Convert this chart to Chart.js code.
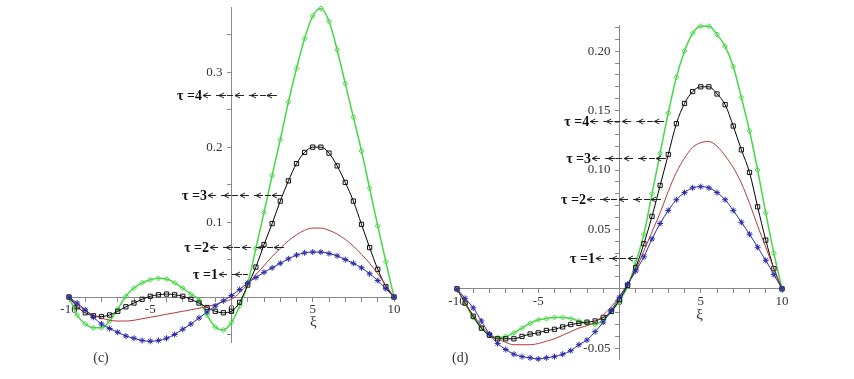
<!DOCTYPE html>
<html>
<head>
<meta charset="utf-8">
<script src="https://cdn.jsdelivr.net/npm/chart.js@4.4.0/dist/chart.umd.min.js"></script>
<style>
  html, body { margin: 0; padding: 0; background: #fff; overflow: hidden; }
  #wrap { position: relative; width: 854px; height: 379px; overflow: hidden; }
  canvas { position: absolute; }
  #chartC { left: 0; top: -10px; }
  #chartD { left: 427px; top: 0; }
</style>
</head>
<body>
<div id="wrap">
  <canvas id="chartC" width="427" height="389"></canvas>
  <canvas id="chartD" width="427" height="379"></canvas>
</div>
<script>
// xi values (sample points)
var xi = [-10, -9.5, -9, -8.5, -8, -7.5, -7, -6.5, -6, -5.5, -5, -4.5, -4, -3.5, -3, -2.5, -2, -1.5, -1, -0.5,
          0, 0.5, 1, 1.5, 2, 2.5, 3, 3.5, 4, 4.5, 5, 5.5, 6, 6.5, 7, 7.5, 8, 8.5, 9, 9.5, 10];

// panel (c)
var cBlue  = [0, -0.008, -0.017, -0.027, -0.036, -0.042, -0.047, -0.052, -0.055, -0.058, -0.059, -0.058, -0.055, -0.05, -0.043, -0.036, -0.028, -0.02, -0.012, -0.005,
              0.002, 0.01, 0.019, 0.026, 0.033, 0.039, 0.045, 0.051, 0.056, 0.059, 0.06, 0.06, 0.058, 0.055, 0.05, 0.045, 0.039, 0.031, 0.022, 0.011, 0];
var cRed   = [0, -0.01, -0.018, -0.024, -0.028, -0.031, -0.032, -0.032, -0.031, -0.029, -0.027, -0.025, -0.023, -0.021, -0.019, -0.017, -0.015, -0.013, -0.01, -0.006,
              -0.003, 0.006, 0.017, 0.03, 0.042, 0.054, 0.065, 0.075, 0.083, 0.089, 0.092, 0.092, 0.089, 0.084, 0.077, 0.068, 0.057, 0.045, 0.031, 0.016, 0];
var cBlack = [0, -0.013, -0.021, -0.025, -0.026, -0.024, -0.019, -0.013, -0.008, -0.003, 0.001, 0.003, 0.004, 0.003, 0.001, -0.003, -0.008, -0.014, -0.019, -0.021,
              -0.019, -0.007, 0.016, 0.04, 0.07, 0.098, 0.128, 0.155, 0.178, 0.193, 0.2, 0.2, 0.192, 0.175, 0.153, 0.128, 0.097, 0.066, 0.037, 0.014, 0];
var cGreen = [0, -0.024, -0.036, -0.041, -0.041, -0.032, -0.016, 0.001, 0.012, 0.019, 0.023, 0.025, 0.024, 0.019, 0.012, 0.004, -0.004, -0.024, -0.04, -0.044,
              -0.034, -0.012, 0.018, 0.065, 0.113, 0.162, 0.21, 0.26, 0.305, 0.345, 0.375, 0.385, 0.368, 0.33, 0.285, 0.24, 0.195, 0.145, 0.095, 0.047, 0];

// panel (d)
var dBlue  = [0, -0.008, -0.016, -0.027, -0.038, -0.046, -0.051, -0.055, -0.057, -0.058, -0.059, -0.058, -0.057, -0.055, -0.052, -0.047, -0.043, -0.036, -0.028, -0.018,
              -0.007, 0.004, 0.015, 0.027, 0.042, 0.055, 0.066, 0.075, 0.081, 0.085, 0.086, 0.085, 0.081, 0.075, 0.066, 0.056, 0.046, 0.035, 0.024, 0.012, 0];
var dRed   = [0, -0.012, -0.022, -0.031, -0.038, -0.042, -0.045, -0.047, -0.047, -0.047, -0.046, -0.044, -0.042, -0.039, -0.036, -0.033, -0.031, -0.028, -0.022, -0.015,
              -0.006, 0.004, 0.016, 0.032, 0.048, 0.064, 0.082, 0.098, 0.11, 0.119, 0.123, 0.124, 0.12, 0.112, 0.102, 0.089, 0.072, 0.053, 0.035, 0.017, 0];
var dBlack = [0, -0.012, -0.023, -0.033, -0.039, -0.042, -0.042, -0.042, -0.04, -0.038, -0.037, -0.035, -0.034, -0.032, -0.03, -0.029, -0.028, -0.027, -0.024, -0.019,
              -0.009, 0.003, 0.018, 0.038, 0.061, 0.087, 0.113, 0.139, 0.156, 0.166, 0.17, 0.17, 0.164, 0.155, 0.137, 0.117, 0.098, 0.069, 0.041, 0.017, 0];
var dGreen = [0, -0.012, -0.024, -0.033, -0.039, -0.041, -0.04, -0.037, -0.033, -0.029, -0.026, -0.025, -0.024, -0.024, -0.025, -0.027, -0.029, -0.03, -0.026, -0.019,
              -0.01, 0.002, 0.022, 0.046, 0.08, 0.114, 0.148, 0.178, 0.2, 0.215, 0.221, 0.221, 0.214, 0.204, 0.187, 0.161, 0.133, 0.1, 0.064, 0.03, 0];

// tau arrow labels
var tauLabels = ['\u03c4 =4', '\u03c4 =3', '\u03c4 =2', '\u03c4 =1'];
var cTauY = [0.269, 0.136, 0.067, 0.031];
var cTauFrom = [-1.82, -1.51, -1.38, -0.83];
var cTauTo = [2.86, 3.17, 3.35, 1.02];
var dTauY = [0.141, 0.110, 0.0756, 0.026];
var dTauFrom = [-1.86, -1.75, -2.06, -1.51];
var dTauTo = [2.82, 2.92, 2.62, 1.28];

var serif = '"Liberation Serif", "DejaVu Serif", serif';

function pts(ys) {
  return xi.map(function (x, i) { return { x: x, y: ys[i] }; });
}

function annot(spec) {
  return {
    id: 'tauArrows',
    afterDatasetsDraw: function (chart) {
      var ctx = chart.ctx, xs = chart.scales.x, ys = chart.scales.y;
      ctx.save();
      for (var i = 0; i < spec.labels.length; i++) {
        var y = Math.round(ys.getPixelForValue(spec.ys[i])) + 0.5;
        var x0 = xs.getPixelForValue(spec.from[i]);
        var x1 = xs.getPixelForValue(spec.to[i]);
        ctx.font = 'bold 14px ' + serif;
        ctx.fillStyle = '#111';
        ctx.textAlign = 'right';
        ctx.textBaseline = 'middle';
        ctx.fillText(spec.labels[i], x0, y + 1);
        ctx.strokeStyle = '#222';
        ctx.lineWidth = 1;
        ctx.setLineDash([6, 5]);
        ctx.beginPath();
        ctx.moveTo(x0 + 3, y);
        ctx.lineTo(x1, y);
        ctx.stroke();
        ctx.setLineDash([]);
        for (var ax = x0 + 1; ax < x1 - 8; ax += 16) {
          ctx.beginPath();
          ctx.moveTo(ax + 5, y - 2.5);
          ctx.lineTo(ax, y);
          ctx.lineTo(ax + 5, y + 2.5);
          ctx.stroke();
          ctx.beginPath();
          ctx.moveTo(ax, y);
          ctx.lineTo(ax + 7, y);
          ctx.stroke();
        }
      }
      ctx.font = '15px ' + serif;
      ctx.fillStyle = '#333';
      ctx.textAlign = 'center';
      ctx.textBaseline = 'middle';
      ctx.fillText('\u03be', xs.getPixelForValue(spec.xiPos[0]), ys.getPixelForValue(spec.xiPos[1]));
      ctx.font = '14px ' + serif;
      ctx.fillText(spec.panel, xs.getPixelForValue(spec.panelPos[0]), ys.getPixelForValue(spec.panelPos[1]));
      ctx.restore();
    }
  };
}

function isMult(v, step) {
  var r = v / step;
  return Math.abs(r - Math.round(r)) < 1e-6;
}

function makeChart(id, series, yMin, yMax, yStep, yLabelStep, yDigits, showNeg, pad, spec) {
  var ctx = document.getElementById(id).getContext('2d');
  return new Chart(ctx, {
    type: 'line',
    data: {
      datasets: [{
        label: 'tau=1', data: pts(series[0]), borderColor: '#2a2aa8', borderWidth: 1,
        pointStyle: 'star', pointRadius: 3, pointBorderColor: '#2a2aa8', pointBorderWidth: 1,
        cubicInterpolationMode: 'monotone', clip: false
      }, {
        label: 'tau=2', data: pts(series[1]), borderColor: '#b23a3a', borderWidth: 1,
        pointRadius: 0, cubicInterpolationMode: 'monotone', clip: false
      }, {
        label: 'tau=3', data: pts(series[2]), borderColor: '#000', borderWidth: 1,
        pointStyle: 'rect', pointRadius: 3, pointBackgroundColor: 'rgba(255,255,255,0)',
        pointBorderColor: '#111', pointBorderWidth: 1, cubicInterpolationMode: 'monotone', clip: false
      }, {
        label: 'tau=4', data: pts(series[3]), borderColor: '#45d845', borderWidth: 1.5,
        pointStyle: 'rectRot', pointRadius: 2.5, pointBackgroundColor: 'rgba(255,255,255,0)',
        pointBorderColor: '#45d845', pointBorderWidth: 1, cubicInterpolationMode: 'monotone', clip: false
      }]
    },
    options: {
      responsive: false,
      animation: false,
      devicePixelRatio: 1,
      layout: { padding: pad },
      plugins: { legend: { display: false }, tooltip: { enabled: false } },
      scales: {
        x: {
          type: 'linear', min: -10, max: 10,
          position: { y: 0 },
          grid: { drawOnChartArea: false, drawTicks: true, tickLength: 4, color: '#888' },
          border: { display: true, color: '#888' },
          ticks: {
            stepSize: 1, includeBounds: false, autoSkip: false, maxRotation: 0, padding: 1,
            color: '#333', font: { family: serif, size: 13 },
            callback: function (v) { return isMult(v, 5) ? String(v) : ''; }
          }
        },
        y: {
          type: 'linear', min: yMin, max: yMax,
          position: { x: 0 },
          grid: { drawOnChartArea: false, drawTicks: true, tickLength: 4, color: '#888' },
          border: { display: true, color: '#888' },
          ticks: {
            stepSize: yStep, includeBounds: false, autoSkip: false, padding: 4,
            color: '#333', font: { family: serif, size: 13 },
            callback: function (v) {
              if (Math.abs(v) < 1e-9) return '';
              if (v < 0 && !showNeg) return '';
              // trailing spaces keep the right-aligned label clear of the axis
              return isMult(v, yLabelStep) ? v.toFixed(yDigits) + '\u2002\u2009' : '';
            }
          }
        }
      }
    },
    plugins: [annot(spec)]
  });
}

makeChart('chartC', [cBlue, cRed, cBlack, cGreen], -0.06, 0.387, 0.05, 0.1, 1, false,
  { left: 69, right: 33, top: 17, bottom: 37 },
  { labels: tauLabels, ys: cTauY, from: cTauFrom, to: cTauTo,
    xiPos: [5.03, -0.033], panel: '(c)', panelPos: [-8.03, -0.0813] });

makeChart('chartD', [dBlue, dRed, dBlack, dGreen], -0.059, 0.222, 0.01, 0.05, 2, true,
  { left: 30, right: 72, top: 25, bottom: 20 },
  { labels: tauLabels, ys: dTauY, from: dTauFrom, to: dTauTo,
    xiPos: [4.93, -0.0218], panel: '(d)', panelPos: [-9.8, -0.0588] });
</script>
</body>
</html>
